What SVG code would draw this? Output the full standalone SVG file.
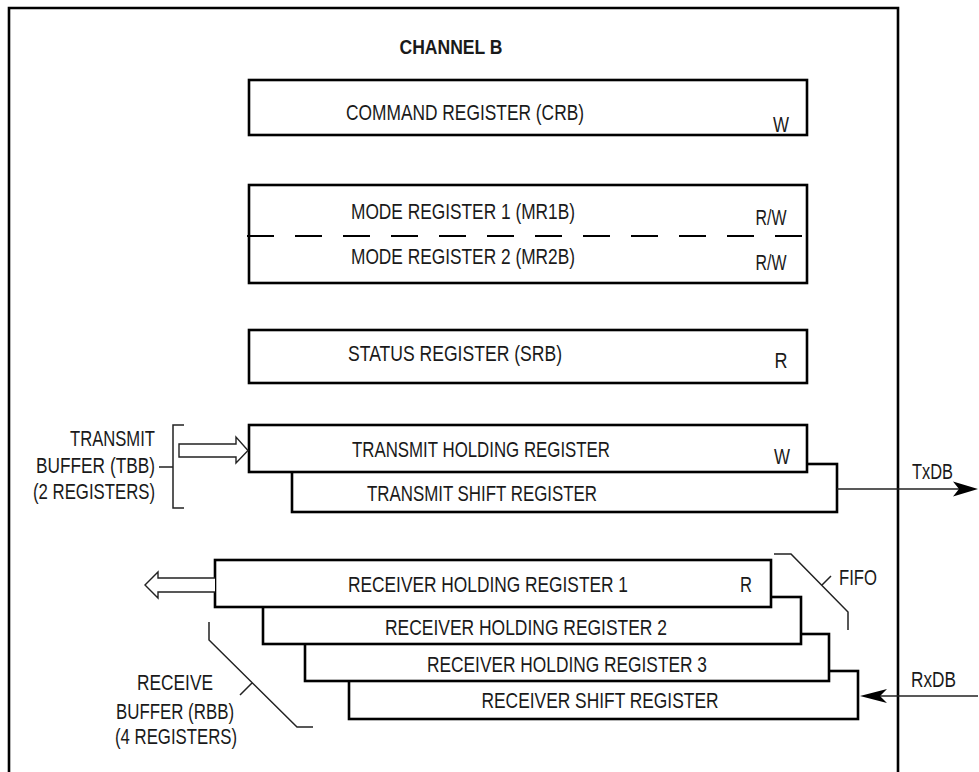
<svg xmlns="http://www.w3.org/2000/svg" width="979" height="772" viewBox="0 0 979 772">
<style>
text{font-family:"Liberation Sans Narrow","Liberation Sans",Arial,sans-serif;font-size:21.5px;fill:#1a1a1a}
.c{text-anchor:middle}
.r{text-anchor:end}
.b{font-weight:bold;font-size:20.5px}
.box{fill:#fff;stroke:#000;stroke-width:2.6}
.ln{fill:none;stroke:#222;stroke-width:1.5}
.hollow{fill:#fff;stroke:#222;stroke-width:1.4;stroke-linejoin:miter}
.head{fill:#000;stroke:none}
</style>
<rect width="979" height="772" fill="#fff"/>
<path d="M9,772 V8 H898 V772" fill="none" stroke="#000" stroke-width="2.6"/>
<text class="c b" x="451" y="54" textLength="103" lengthAdjust="spacingAndGlyphs">CHANNEL B</text>

<g id="crb">
<rect class="box" x="249" y="80" width="558" height="55"/>
<text class="c" x="465" y="120" textLength="238" lengthAdjust="spacingAndGlyphs">COMMAND REGISTER (CRB)</text>
<text class="c" x="781" y="132" textLength="16" lengthAdjust="spacingAndGlyphs">W</text>
</g>

<g id="mode">
<rect class="box" x="249" y="185" width="558" height="98"/>
<line x1="247" y1="236" x2="806" y2="236" stroke="#000" stroke-width="2" stroke-dasharray="27 21"/>
<text class="c" x="463" y="219" textLength="224" lengthAdjust="spacingAndGlyphs">MODE REGISTER 1 (MR1B)</text>
<text class="c" x="771" y="225" textLength="31" lengthAdjust="spacingAndGlyphs">R/W</text>
<text class="c" x="463" y="264" textLength="224" lengthAdjust="spacingAndGlyphs">MODE REGISTER 2 (MR2B)</text>
<text class="c" x="771" y="270" textLength="31" lengthAdjust="spacingAndGlyphs">R/W</text>
</g>

<g id="srb">
<rect class="box" x="249" y="330" width="558" height="53"/>
<text class="c" x="455" y="361" textLength="214" lengthAdjust="spacingAndGlyphs">STATUS REGISTER (SRB)</text>
<text class="c" x="781" y="368" textLength="13" lengthAdjust="spacingAndGlyphs">R</text>
</g>

<g id="tsr">
<rect class="box" x="292" y="464" width="545" height="48"/>
<text class="c" x="482" y="501" textLength="230" lengthAdjust="spacingAndGlyphs">TRANSMIT SHIFT REGISTER</text>
</g>
<g id="thr">
<rect class="box" x="249" y="425" width="558" height="47"/>
<text class="c" x="481" y="457" textLength="258" lengthAdjust="spacingAndGlyphs">TRANSMIT HOLDING REGISTER</text>
<text class="c" x="782" y="464" textLength="16" lengthAdjust="spacingAndGlyphs">W</text>
</g>

<g id="tbb">
<text class="r" x="155" y="446" textLength="85" lengthAdjust="spacingAndGlyphs">TRANSMIT</text>
<text class="r" x="155" y="473" textLength="119" lengthAdjust="spacingAndGlyphs">BUFFER (TBB)</text>
<text class="r" x="155" y="499" textLength="122" lengthAdjust="spacingAndGlyphs">(2 REGISTERS)</text>
</g>

<g id="rsr">
<rect class="box" x="349" y="671" width="509" height="48"/>
<text class="c" x="600" y="708" textLength="237" lengthAdjust="spacingAndGlyphs">RECEIVER SHIFT REGISTER</text>
</g>
<g id="rhr3">
<rect class="box" x="305" y="634" width="524" height="47"/>
<text class="c" x="567" y="672" textLength="280" lengthAdjust="spacingAndGlyphs">RECEIVER HOLDING REGISTER 3</text>
</g>
<g id="rhr2">
<rect class="box" x="263" y="597" width="538" height="47"/>
<text class="c" x="526" y="635" textLength="282" lengthAdjust="spacingAndGlyphs">RECEIVER HOLDING REGISTER 2</text>
</g>
<g id="rhr1">
<rect class="box" x="215" y="560" width="556" height="47"/>
<text class="c" x="488" y="592" textLength="280" lengthAdjust="spacingAndGlyphs">RECEIVER HOLDING REGISTER 1</text>
<text class="c" x="746" y="592" textLength="12" lengthAdjust="spacingAndGlyphs">R</text>
</g>

<g id="rbb">
<text class="c" x="175" y="690" textLength="76" lengthAdjust="spacingAndGlyphs">RECEIVE</text>
<text class="c" x="175" y="719" textLength="118" lengthAdjust="spacingAndGlyphs">BUFFER (RBB)</text>
<text class="c" x="176" y="744" textLength="122" lengthAdjust="spacingAndGlyphs">(4 REGISTERS)</text>
</g>

<g id="fifo">
<text x="839" y="585" textLength="38" lengthAdjust="spacingAndGlyphs">FIFO</text>
</g>

<g id="connectors">
<path class="ln" d="M184,425 H173 V508 H184 M159,467 H173"/>
<path class="hollow" d="M179,444 H236 V437 L248,450.5 L236,463 V457 H179 Z"/>
<line class="ln" x1="837" y1="489" x2="970" y2="489"/>
<path class="head" d="M978,489 L953,481.5 L959,489 L953,496.5 Z"/>
<text x="912" y="479" textLength="41" lengthAdjust="spacingAndGlyphs">TxDB</text>
<path class="hollow" d="M215,578 H158 V572 L145,585 L158,598 V592 H215"/>
<path class="ln" d="M209,622 V640 L297,727 H313 M252,683 L240,695"/>
<path class="ln" d="M774,554 H791 L848,612 V630 M822,585 L831,576"/>
<line class="ln" x1="978" y1="696" x2="868" y2="696"/>
<path class="head" d="M860,696 L887,689 L880,696 L887,703 Z"/>
<text x="911" y="687" textLength="45" lengthAdjust="spacingAndGlyphs">RxDB</text>
</g>
</svg>
